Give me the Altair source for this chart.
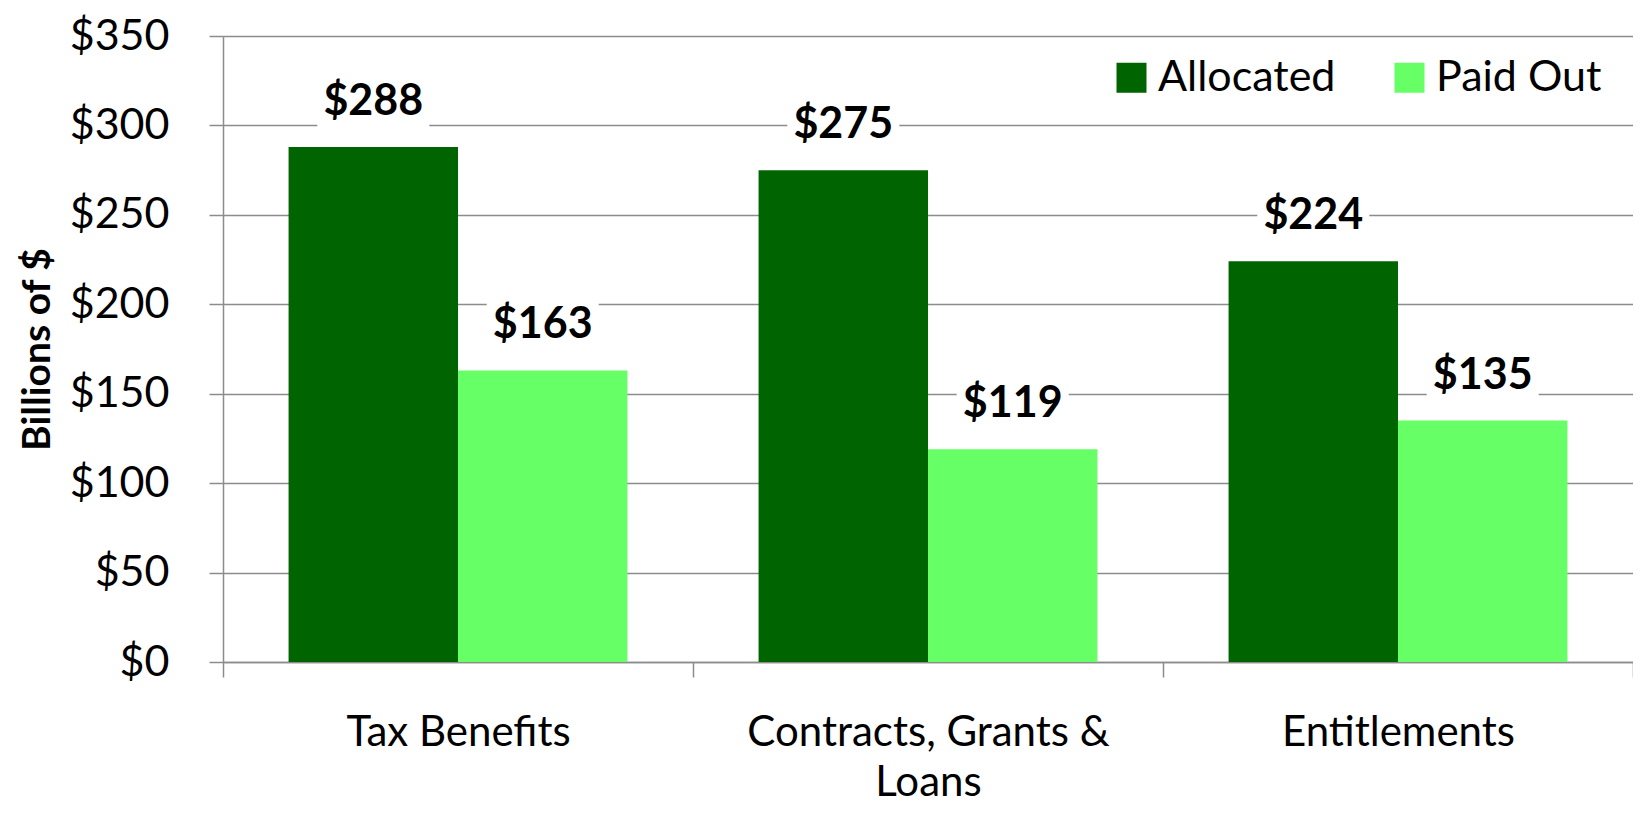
import altair as alt
import pandas as pd

categories = ["Tax Benefits", "Contracts, Grants & Loans", "Entitlements"]
series = ["Allocated", "Paid Out"]
allocated = [288, 275, 224]
paid_out = [163, 119, 135]
y_ticks = [0, 50, 100, 150, 200, 250, 300, 350]
colors = ["#006400", "#66FF66"]

rows = []
for c, a, p in zip(categories, allocated, paid_out):
    rows.append({"category": c, "series": series[0], "value": a})
    rows.append({"category": c, "series": series[1], "value": p})
df = pd.DataFrame(rows)

FONT = "Lato"
GRAY = "#8c8c8c"
FS = 43

x = alt.X(
    "category:N",
    sort=categories,
    scale=alt.Scale(paddingInner=0, paddingOuter=0),
    axis=alt.Axis(
        title=None, labelAngle=0, labelFontSize=42, labelFont=FONT, labelColor="black",
        tickBand="extent", tickSize=15, tickColor=GRAY, tickWidth=1.5,
        domainColor=GRAY, domainWidth=1.5, labelPadding=35, labelLineHeight=50,
        labelExpr="datum.label == 'Contracts, Grants & Loans' ? ['Contracts, Grants &', 'Loans'] : datum.label",
        labelBaseline="top", labelLimit=0, grid=False,
    ),
)
y = alt.Y(
    "value:Q",
    scale=alt.Scale(domain=[0, 350], nice=False),
    axis=alt.Axis(
        values=y_ticks, format="$d", title="Billions of $", titleFont=FONT, titleFontSize=39,
        titleFontWeight="bold", titleColor="black", titleAngle=270, titleX=-186, titleY=313,
        titleAlign="center", titleBaseline="middle",
        labelFontSize=FS, labelFont=FONT, labelColor="black", labelPadding=40,
        tickSize=14, tickColor=GRAY, tickWidth=1.5, domainColor=GRAY, domainWidth=1.5,
        grid=True, gridColor=GRAY, gridWidth=1.5,
    ),
)
xo = alt.XOffset("series:N", sort=series, scale=alt.Scale(paddingInner=0, paddingOuter=0.387))

bars = alt.Chart(df).mark_bar().encode(
    x=x, xOffset=xo, y=y,
    color=alt.Color(
        "series:N",
        scale=alt.Scale(domain=series, range=colors),
        legend=alt.Legend(
            orient="none", legendX=887, legendY=20, direction="horizontal", title=None,
            symbolType="square", symbolSize=900, symbolStrokeWidth=0, symbolOpacity=1,
            labelFontSize=FS, labelFont=FONT, labelColor="black", labelOffset=5,
            columnPadding=52, padding=0, labelLimit=0,
        ),
    ),
)

boxes = alt.Chart(df).mark_point(
    shape="M-1,-0.45H1V0.45H-1Z", filled=True, color="white", opacity=1,
    size=12544, yOffset=-45,
).encode(x=x, xOffset=xo, y=y)

labels = alt.Chart(df).mark_text(
    dy=-45, fontSize=FS, fontWeight="bold", font=FONT, color="black", baseline="middle",
).encode(x=x, xOffset=xo, y=y, text=alt.Text("value:Q", format="$d"))

chart = (
    alt.layer(bars, boxes, labels)
    .properties(
        width=1410, height=626,
        padding={"left": 215, "top": 28, "right": 0, "bottom": 147},
        autosize=alt.AutoSizeParams(type="none"),
    )
    .configure_view(stroke=None)
)

chart.save("out.html", embed_options={"renderer": "svg", "actions": False})
